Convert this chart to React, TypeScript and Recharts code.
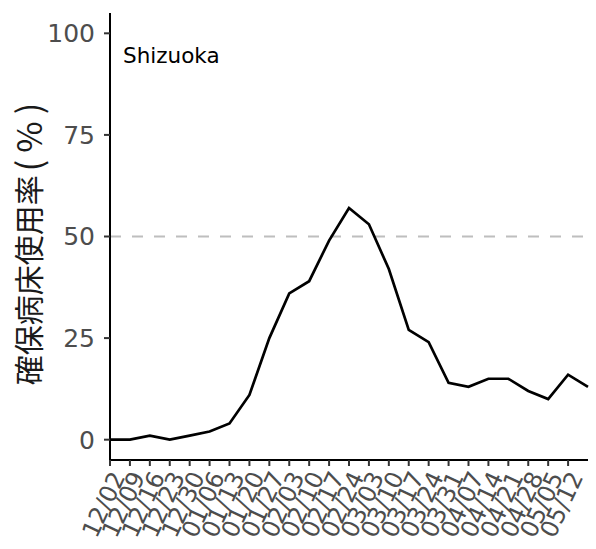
import React from "react";
import {
  LineChart,
  Line,
  XAxis,
  YAxis,
  ReferenceLine,
  Customized,
} from "recharts";

// weekly dates (last point has no tick label in the original)
const weeks = [
  "12/02", "12/09", "12/16", "12/23", "12/30", "01/06", "01/13", "01/20",
  "01/27", "02/03", "02/10", "02/17", "02/24", "03/03", "03/10", "03/17",
  "03/24", "03/31", "04/07", "04/14", "04/21", "04/28", "05/05", "05/12",
  "05/19",
];

const occupancy = [
  0, 0, 1, 0, 1, 2, 4, 11, 25, 36, 39, 49, 57, 53, 42, 27, 24, 14, 13, 15,
  15, 12, 10, 16, 13,
];

const tickWeeks = weeks.slice(0, 24);
const yTicks = [0, 25, 50, 75, 100];
const prefecture = "Shizuoka";
const yTitle = "確保病床使用率";
const yUnit = "(%)";

const data = weeks.map((week, i) => ({ idx: i, week, value: occupancy[i] }));

const LATIN = "'DejaVu Sans', Verdana, sans-serif";
const CJK = "'Noto Sans CJK JP', sans-serif";

function XTick(props: any) {
  const { x, y, payload } = props;
  return (
    <g transform={`translate(${x + 8},${y + 5})`}>
      <text
        transform="rotate(-65)"
        textAnchor="end"
        dy="0.35em"
        fill="#4D4D4D"
        fontSize={24}
        fontFamily={LATIN}
      >
        {weeks[payload.value]}
      </text>
    </g>
  );
}

function YTitle(props: any) {
  const vb = props.viewBox || {};
  const cy = vb.y + vb.height / 2 + 4;
  return (
    <text
      x={27}
      y={cy}
      transform={`rotate(-90, 27, ${cy})`}
      textAnchor="middle"
      dominantBaseline="central"
      fill="#1a1a1a"
      fontSize={30}
      fontFamily={CJK}
    >
      {yTitle}
      <tspan fontSize={34} letterSpacing={7} dx={4}>
        {yUnit}
      </tspan>
    </text>
  );
}

function PanelTag() {
  return (
    <text x={123} y={63} fill="#000" fontSize={21.5} fontFamily={LATIN}>
      {prefecture}
    </text>
  );
}

export default function App() {
  return (
    <div style={{ position: "absolute", left: 0, top: 0, background: "#fff" }}>
      <LineChart
        width={596}
        height={549}
        data={data}
        margin={{ top: 13, right: 8, left: 0, bottom: 0 }}
      >
        <XAxis
          type="number"
          dataKey="idx"
          domain={[0, 24]}
          ticks={tickWeeks.map((_, i) => i)}
          interval={0}
          height={89}
          tick={<XTick />}
          tickSize={6}
          tickLine={{ stroke: "#333", strokeWidth: 2 }}
          axisLine={{ stroke: "#000", strokeWidth: 2 }}
        />
        <YAxis
          type="number"
          domain={[-5, 105]}
          ticks={yTicks}
          interval={0}
          width={110}
          allowDataOverflow
          tickSize={6}
          tickMargin={9}
          tick={{ fill: "#4D4D4D", fontSize: 25, fontFamily: LATIN }}
          tickLine={{ stroke: "#333", strokeWidth: 2 }}
          axisLine={{ stroke: "#000", strokeWidth: 2 }}
          label={<YTitle />}
        />
        <ReferenceLine
          y={50}
          stroke="#BEBEBE"
          strokeWidth={2}
          strokeDasharray="11 11"
        />
        <Line
          type="linear"
          dataKey="value"
          stroke="#000"
          strokeWidth={2.7}
          dot={false}
          isAnimationActive={false}
        />
        <Customized component={PanelTag} />
      </LineChart>
    </div>
  );
}
